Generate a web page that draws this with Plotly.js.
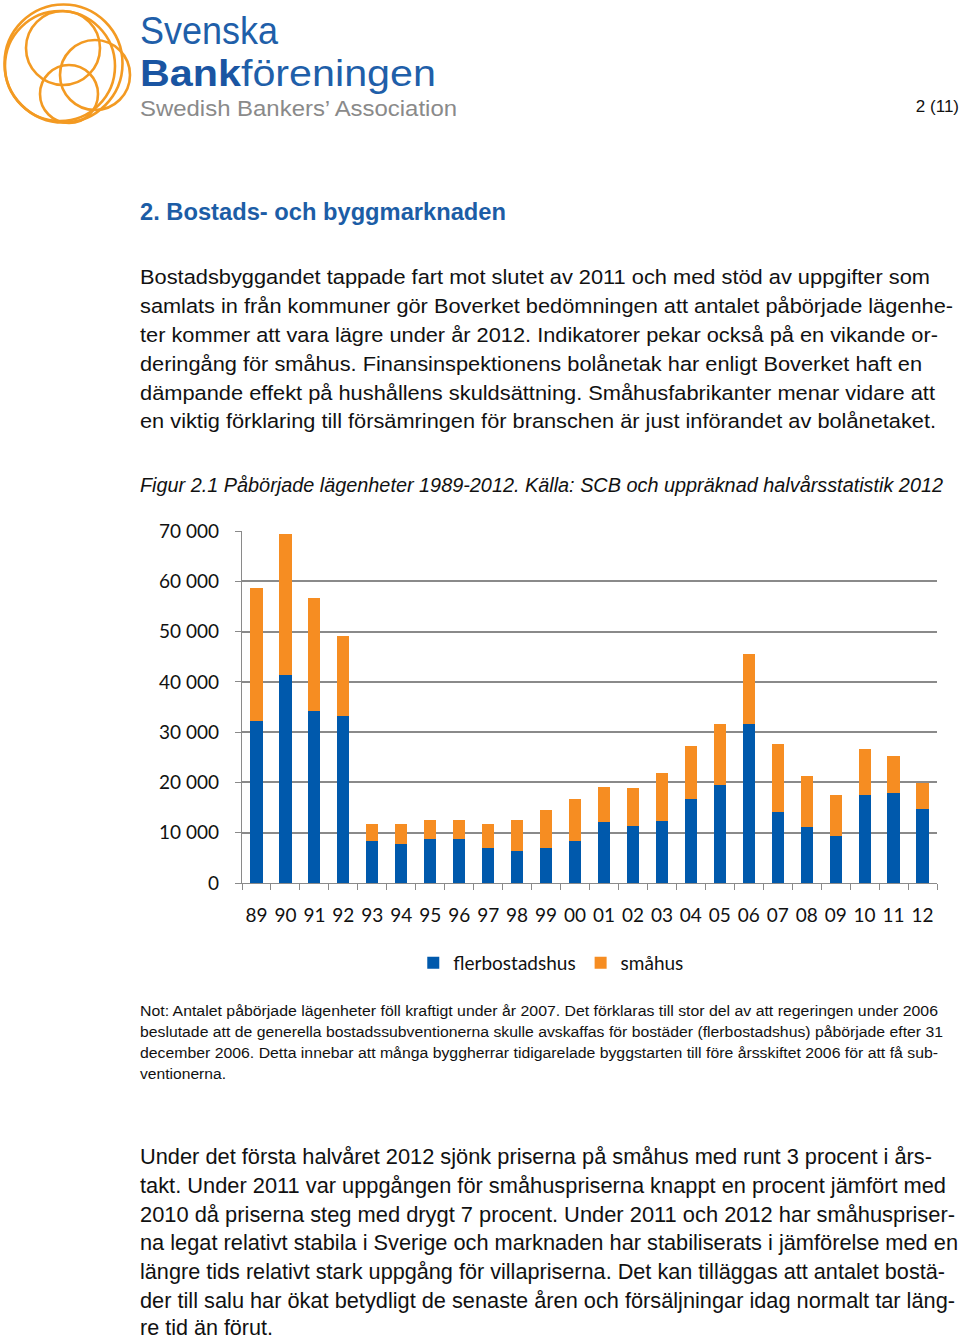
<!DOCTYPE html>
<html>
<head>
<meta charset="utf-8">
<script src="https://cdn.plot.ly/plotly-3.0.1.min.js"></script>
<style>
  html, body { margin:0; padding:0; background:#fff; }
  #page { position:relative; width:960px; height:1337px; overflow:hidden; background:#fff; }
  #txt { position:absolute; left:0; top:0; }
  #chart { position:absolute; left:0; top:500px; width:960px; height:500px; }
  .body { font-family:"Liberation Sans", Arial, sans-serif; font-size:20.5px; fill:#111; }
  .narrow { font-family:"Liberation Sans Narrow", "Liberation Sans", Arial, sans-serif; fill:#111; }
  .logo { font-family:"Liberation Sans", Arial, sans-serif; }
</style>
</head>
<body>
<div id="page">
<svg id="txt" width="960" height="1337" xmlns="http://www.w3.org/2000/svg">
  <!-- logo -->
  <g fill="none" stroke="#F39A22" stroke-width="2.6">
    <circle cx="63.5" cy="63.5" r="59"/>
    <circle cx="60" cy="66" r="55"/>
    <circle cx="63" cy="48" r="37"/>
    <circle cx="95" cy="75" r="35"/>
    <circle cx="69" cy="94" r="29"/>
  </g>
  <text class="logo" x="140" y="43.5" font-size="38" fill="#1F5FA9" textLength="138" lengthAdjust="spacingAndGlyphs">Svenska</text>
  <text class="logo" x="140" y="86" font-size="36.5" fill="#1A55A2" textLength="296" lengthAdjust="spacingAndGlyphs"><tspan font-weight="bold">Bank</tspan><tspan fill="#1F5FA9">föreningen</tspan></text>
  <text class="logo" x="140" y="116" font-size="22.5" fill="#8A8A8A" textLength="317" lengthAdjust="spacingAndGlyphs">Swedish Bankers’ Association</text>
  <text x="959" y="112" text-anchor="end" font-family="Liberation Sans, Arial, sans-serif" font-size="17" fill="#111">2 (11)</text>

  <!-- heading -->
  <text x="140" y="219.5" font-family="Liberation Sans, Arial, sans-serif" font-size="23.5" font-weight="bold" fill="#1C5DA6" textLength="366" lengthAdjust="spacingAndGlyphs">2. Bostads- och byggmarknaden</text>

  <!-- body paragraph -->
  <text class="body" x="140" y="284" textLength="790" lengthAdjust="spacingAndGlyphs">Bostadsbyggandet tappade fart mot slutet av 2011 och med stöd av uppgifter som</text>
  <text class="body" x="140" y="313" textLength="813" lengthAdjust="spacingAndGlyphs">samlats in från kommuner gör Boverket bedömningen att antalet påbörjade lägenhe-</text>
  <text class="body" x="140" y="342" textLength="798" lengthAdjust="spacingAndGlyphs">ter kommer att vara lägre under år 2012. Indikatorer pekar också på en vikande or-</text>
  <text class="body" x="140" y="370.8" textLength="782" lengthAdjust="spacingAndGlyphs">deringång för småhus. Finansinspektionens bolånetak har enligt Boverket haft en</text>
  <text class="body" x="140" y="399.6" textLength="795" lengthAdjust="spacingAndGlyphs">dämpande effekt på hushållens skuldsättning. Småhusfabrikanter menar vidare att</text>
  <text class="body" x="140" y="428.4" textLength="796" lengthAdjust="spacingAndGlyphs">en viktig förklaring till försämringen för branschen är just införandet av bolånetaket.</text>

  <!-- caption -->
  <text class="narrow" x="140" y="491.5" font-size="20" font-style="italic" textLength="803" lengthAdjust="spacingAndGlyphs">Figur 2.1 Påbörjade lägenheter 1989-2012. Källa: SCB och uppräknad halvårsstatistik 2012</text>

  <!-- note -->
  <text class="narrow" x="140" y="1016" font-size="15.5" textLength="798" lengthAdjust="spacingAndGlyphs">Not: Antalet påbörjade lägenheter föll kraftigt under år 2007. Det förklaras till stor del av att regeringen under 2006</text>
  <text class="narrow" x="140" y="1037" font-size="15.5" textLength="803" lengthAdjust="spacingAndGlyphs">beslutade att de generella bostadssubventionerna skulle avskaffas för bostäder (flerbostadshus) påbörjade efter 31</text>
  <text class="narrow" x="140" y="1058" font-size="15.5" textLength="798" lengthAdjust="spacingAndGlyphs">december 2006. Detta innebar att många byggherrar tidigarelade byggstarten till före årsskiftet 2006 för att få sub-</text>
  <text class="narrow" x="140" y="1079" font-size="15.5" textLength="86" lengthAdjust="spacingAndGlyphs">ventionerna.</text>

  <!-- bottom paragraph -->
  <text class="narrow" x="140" y="1164" font-size="21.5" textLength="792" lengthAdjust="spacingAndGlyphs">Under det första halvåret 2012 sjönk priserna på småhus med runt 3 procent i års-</text>
  <text class="narrow" x="140" y="1193" font-size="21.5" textLength="806" lengthAdjust="spacingAndGlyphs">takt. Under 2011 var uppgången för småhuspriserna knappt en procent jämfört med</text>
  <text class="narrow" x="140" y="1222" font-size="21.5" textLength="815" lengthAdjust="spacingAndGlyphs">2010 då priserna steg med drygt 7 procent. Under 2011 och 2012 har småhuspriser-</text>
  <text class="narrow" x="140" y="1250" font-size="21.5" textLength="818" lengthAdjust="spacingAndGlyphs">na legat relativt stabila i Sverige och marknaden har stabiliserats i jämförelse med en</text>
  <text class="narrow" x="140" y="1279" font-size="21.5" textLength="805" lengthAdjust="spacingAndGlyphs">längre tids relativt stark uppgång för villapriserna. Det kan tilläggas att antalet bostä-</text>
  <text class="narrow" x="140" y="1308" font-size="21.5" textLength="815" lengthAdjust="spacingAndGlyphs">der till salu har ökat betydligt de senaste åren och försäljningar idag normalt tar läng-</text>
  <text class="narrow" x="140" y="1335" font-size="21.5" textLength="133" lengthAdjust="spacingAndGlyphs">re tid än förut.</text>
</svg>
<div id="chart"></div>
</div>
<script>
// Year labels
const years = ["89","90","91","92","93","94","95","96","97","98","99","00",
               "01","02","03","04","05","06","07","08","09","10","11","12"];
// Påbörjade lägenheter i flerbostadshus
const flerbostadshus = [32300,41400,34300,33300,8350,7700,8700,8700,7000,6350,7000,8350,
                        12050,11400,12400,16800,19450,31600,14100,11050,9400,17500,17800,14750];
// Påbörjade lägenheter i småhus
const smahus = [26300,28000,22300,15800,3450,4100,3750,3750,4800,6100,7450,8450,
                7100,7400,9450,10400,12150,13900,13500,10150,8100,9100,7400,5050];
const yTicks = [0,10000,20000,30000,40000,50000,60000,70000];
const yTickText = ["0","10 000","20 000","30 000","40 000","50 000","60 000","70 000"];

const blue = "#0059AC";
const orange = "#F68D22";
const gray = "#8A8A8A";
const chartFont = "Lato, 'Open Sans', sans-serif";

const traces = [
  { type:"bar", name:"flerbostadshus", x:years, y:flerbostadshus,
    marker:{color:blue}, hoverinfo:"x+y+name" },
  { type:"bar", name:"småhus", x:years, y:smahus,
    marker:{color:orange}, hoverinfo:"x+y+name" }
];

const layout = {
  width:960, height:500,
  margin:{l:242, r:23, t:31, b:117},
  paper_bgcolor:"rgba(0,0,0,0)",
  plot_bgcolor:"#fff",
  barmode:"stack",
  bargap:0.58,
  showlegend:true,
  legend:{orientation:"h", x:0.445, xanchor:"center", y:-0.227, yanchor:"middle",
          font:{family:chartFont, size:19, color:"#111"}, itemwidth:30,
          traceorder:"normal"},
  xaxis:{type:"category", showgrid:false, showline:true, linecolor:gray, linewidth:1.4,
         ticks:"outside", tickson:"boundaries", ticklen:6, tickcolor:gray, tickwidth:1.2,
         tickangle:0,
         tickfont:{family:chartFont, size:19, color:"#111"}, ticklabelstandoff:15,
         fixedrange:true},
  yaxis:{range:[0,70000], tickvals:yTicks, ticktext:yTickText,
         showgrid:true, gridcolor:gray, gridwidth:1.5,
         showline:true, linecolor:gray, linewidth:1.4, zeroline:false,
         ticks:"outside", ticklen:6, tickcolor:gray, tickwidth:1.2,
         tickfont:{family:chartFont, size:19, color:"#111"}, ticklabelstandoff:12,
         fixedrange:true}
};

Plotly.newPlot("chart", traces, layout, {displayModeBar:false});
</script>
</body>
</html>
